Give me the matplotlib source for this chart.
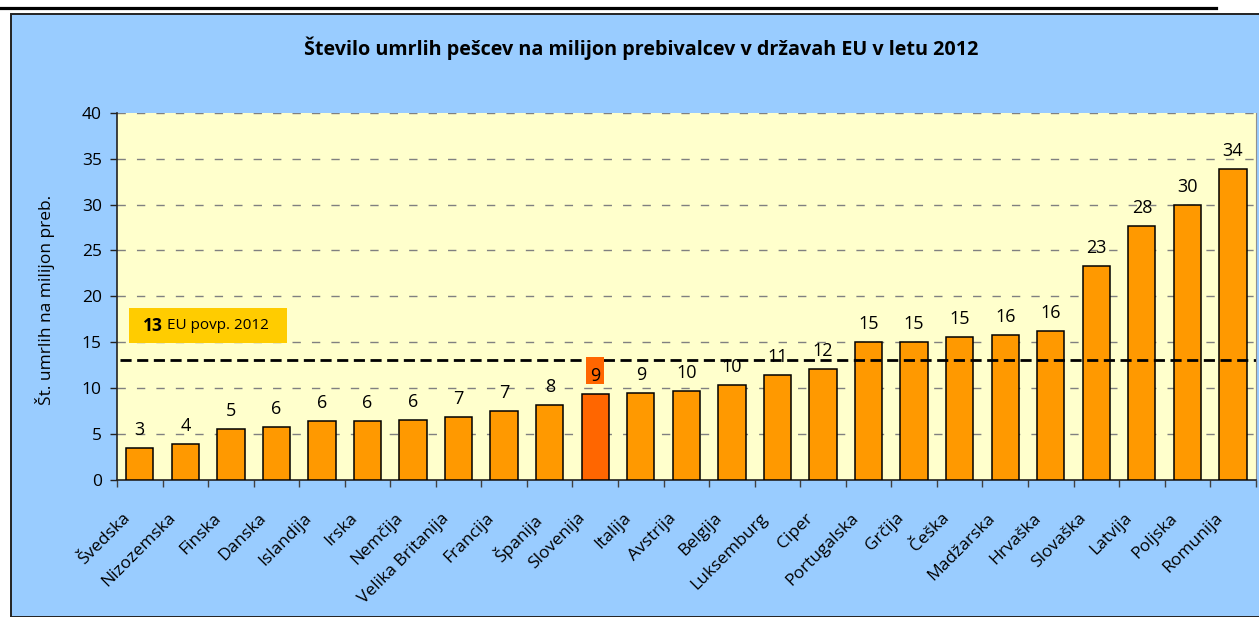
import matplotlib
matplotlib.use("Agg")
import matplotlib.pyplot as plt
from matplotlib.patches import Rectangle
from matplotlib.lines import Line2D
import matplotlib.transforms as mtransforms

countries = ["Švedska", "Nizozemska", "Finska", "Danska", "Islandija", "Irska",
             "Nemčija", "Velika Britanija", "Francija", "Španija", "Slovenija",
             "Italija", "Avstrija", "Belgija", "Luksemburg", "Ciper", "Portugalska",
             "Grčija", "Češka", "Madžarska", "Hrvaška", "Slovaška", "Latvija",
             "Poljska", "Romunija"]
values = [3.4, 3.9, 5.55, 5.73, 6.35, 6.35, 6.53, 6.82, 7.5, 8.17, 9.3,
          9.48, 9.66, 10.28, 11.44, 12.1, 15.05, 15.05, 15.52, 15.74, 16.2,
          23.27, 27.67, 30.0, 33.93]
labels = ["3", "4", "5", "6", "6", "6", "6", "7", "7", "8", "9", "9", "10", "10",
          "11", "12", "15", "15", "15", "16", "16", "23", "28", "30", "34"]
highlight = "Slovenija"
eu_avg = 13
yticks = [0, 5, 10, 15, 20, 25, 30, 35, 40]

FONT = "Open Sans"
plt.rcParams["font.family"] = [FONT, "DejaVu Sans"]

W, H = 1259, 617
fig = plt.figure(figsize=(W / 100, H / 100), dpi=100, facecolor="white")

# outer blue chart area and top rule
fig.patches.append(Rectangle((11 / W, 0), 1.0, (H - 14) / H, transform=fig.transFigure,
                             facecolor="#99CCFF", edgecolor="#222222", linewidth=1.4,
                             zorder=-10))
fig.lines.append(Line2D([0, 1216 / W], [1 - 7.5 / H, 1 - 7.5 / H], transform=fig.transFigure,
                        color="black", linewidth=2.3, zorder=-10))

ax = fig.add_axes([117 / W, 1 - 479.5 / H, (1255.7 - 117) / W, (479.5 - 113) / H])
ax.set_zorder(1)
ax.set_facecolor("#FFFFCC")

x = list(range(len(countries)))
colors = ["#FF6600" if c == highlight else "#FF9900" for c in countries]
bar_w = 0.6
ax.bar(x, values, width=bar_w, color=colors, edgecolor="black", linewidth=1.1, zorder=3)

ax.set_xlim(-0.5, len(countries) - 0.5)
ax.set_ylim(0, 40)
ax.set_yticks(yticks)
ax.set_yticklabels([str(v) for v in yticks], fontsize=12.5)

for yv in yticks[1:]:
    ax.axhline(yv, color="#808080", linewidth=1.0, linestyle=(0, (6, 8)), zorder=1)

ax.axhline(eu_avg, xmin=0.003, xmax=1, color="black", linewidth=2.0,
           linestyle=(0, (4, 2)), zorder=4)

# data labels
for i, (v, lab, c) in enumerate(zip(values, labels, countries)):
    if c == highlight:
        ax.add_patch(Rectangle((i - bar_w * 0.33, v + 1.09), bar_w * 0.66, 2.95,
                               facecolor="#FF6600", edgecolor="none", zorder=4.5))
    ax.annotate(lab, xy=(i, v), xytext=(0, 13), textcoords="offset points",
                ha="center", va="center", fontsize=13, zorder=5)

# x ticks at category boundaries
ax.set_xticks([i - 0.5 for i in range(len(countries) + 1)], minor=True)
ax.set_xticks(x)
ax.set_xticklabels(countries, rotation=45, ha="right", va="top",
                   rotation_mode="anchor", fontsize=12.5)
ax.tick_params(axis="x", which="major", length=0, pad=22)
ax.tick_params(axis="x", which="minor", length=5, color="#404040", width=1)
offset = mtransforms.ScaledTranslation(-13 / 72, 0, fig.dpi_scale_trans)
for lbl in ax.get_xticklabels():
    lbl.set_transform(lbl.get_transform() + offset)
ax.tick_params(axis="y", length=5, width=1, color="#222222", pad=6)

ax.spines["top"].set_visible(False)
ax.spines["right"].set_color("#909090")
ax.spines["left"].set_color("#222222")
ax.spines["bottom"].set_color("#222222")
ax.spines["left"].set_linewidth(1.2)
ax.spines["bottom"].set_linewidth(1.2)

# EU average box
ax.add_patch(Rectangle((0.0105, 0.3725), 0.1388, 0.0955, transform=ax.transAxes,
                       facecolor="#FFCC00", edgecolor="none", zorder=4))
t1 = ax.text(0.0228, 0.419, str(eu_avg), transform=ax.transAxes, fontsize=12.5,
             fontweight="bold", va="center", ha="left", zorder=5)
ax.annotate(" EU povp. 2012", xy=(1, 0.5), xycoords=t1, va="center", ha="left",
            fontsize=11, zorder=5)

fig.text(641.5 / W, 1 - 48 / H,
         "Število umrlih pešcev na milijon prebivalcev v državah EU v letu 2012",
         ha="center", va="center", fontsize=14.2, fontweight="bold")
fig.text(45 / W, 1 - 300 / H, "Št. umrlih na milijon preb.", rotation=90,
         ha="center", va="center", fontsize=12.5)

fig.savefig("out.png", dpi=100, facecolor="white")
